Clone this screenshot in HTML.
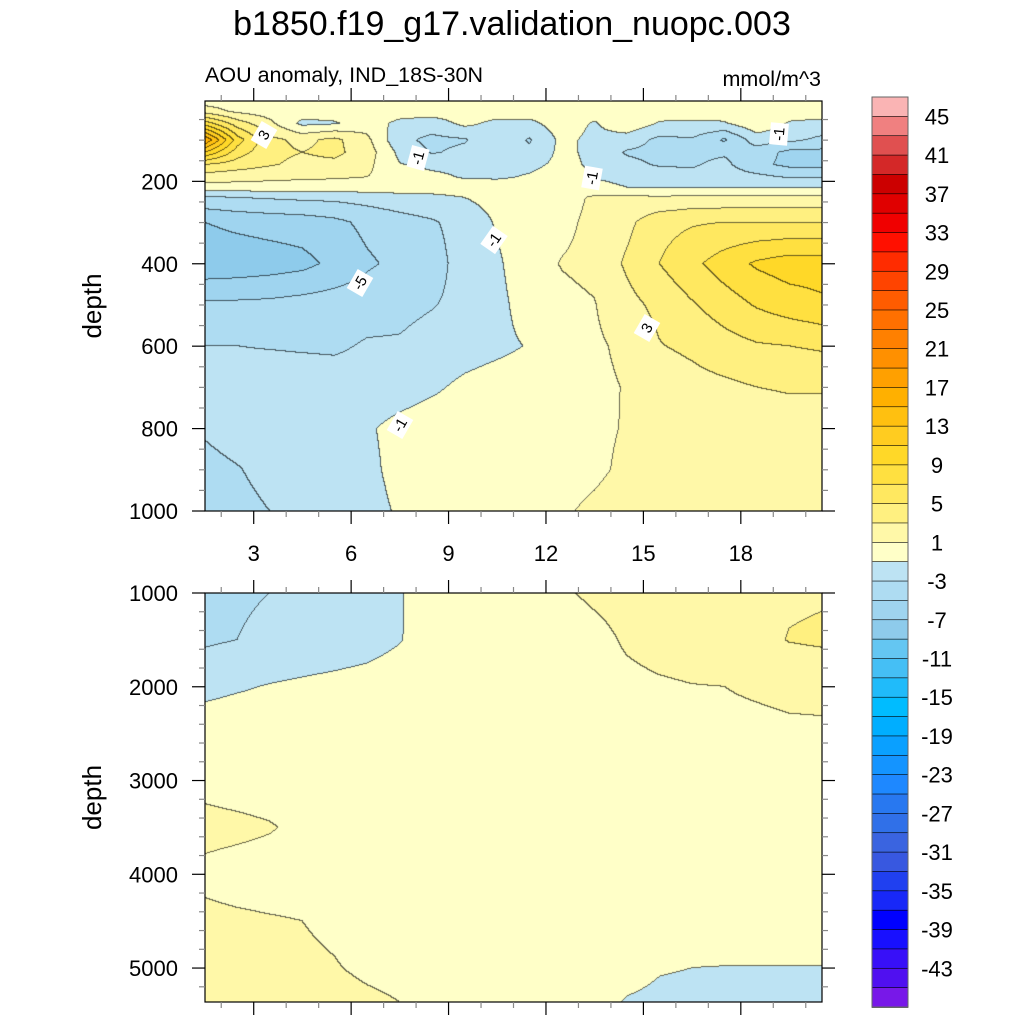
<!DOCTYPE html>
<html><head><meta charset="utf-8"><style>
html,body{margin:0;padding:0;background:#fff;}
#root{position:relative;width:1024px;height:1024px;overflow:hidden;font-family:"Liberation Sans",Arial,sans-serif;}
canvas{position:absolute;}
svg{position:absolute;left:0;top:0;}
</style></head><body>
<div id="root">
<canvas id="cTop" width="617" height="410" style="left:205px;top:101px"></canvas>
<canvas id="cBot" width="617" height="409" style="left:205px;top:593px"></canvas>
<svg id="ov" width="1024" height="1024"></svg>
</div>
<script>
// ---- data ----
const xCols = [1.5,2.5,3.5,4.5,5.5,6.5,7.5,8.5,9.5,10.5,11.5,12.5,13.5,14.5,15.5,16.5,17.5,18.5,19.5,20.5];
const topDepths = [5,30,60,100,130,160,190,215,240,300,400,500,600,700,800,900,1000];
const topVals = [
[0,0,0,0,0,0,0,0,0,0,0,0,0,0,0,0,0,0,0,0],
[2,0.5,0,0,0,0,0,0,0,0,0,0,0,0,0,0,0,0,0,0],
[8,4,1.5,-1.5,-1.2,0,-1.5,-2,-0.5,-1.5,-1.5,0,-1.2,0.5,-1.2,-1.3,-1.2,0.5,-1.2,-1.5],
[17,8,3.5,2.5,3.5,1.5,-2.5,-3.5,-3.2,-1.5,-3.2,-0.5,-1.5,-2,-3.5,-3.2,-5.3,-2,-2.5,-3.5],
[11,6,3.5,3,3.5,2,-1.5,-3.2,-2.5,-2,-2.5,-0.5,-1.5,-3.2,-3.5,-3.5,-3.3,-4,-5.5,-5.5],
[5,4,3.2,2.5,2.5,1.5,-0.9,-1.5,-1.5,-1.5,-1.5,-0.5,-1.3,-2.5,-3.2,-3.2,-2.5,-4.5,-5.5,-5.5],
[2,1.8,1.5,1.3,1.2,1,0.2,-0.5,-1.2,-1.3,-0.8,0,-1.1,-1.5,-2,-2.5,-2,-2.5,-3.2,-3.2],
[0.2,0.2,0.2,0.2,0.2,0.2,0.2,0,0,0,0,0,-0.5,-1,-1,-1.1,-1.1,-1.1,-1.1,-1.2],
[-3.3,-3,-2.8,-2.6,-2.5,-2.2,-1.8,-1.5,-1,-0.3,0,0.2,1.3,1.5,1.2,1.5,1.5,1.5,1.5,1.5],
[-7,-6.5,-6.2,-6,-5.5,-4.5,-3.8,-3.2,-2.3,-0.8,0.3,0.5,1.5,2.5,4.3,4.8,5,5,5,5],
[-8.5,-8.3,-8,-7.6,-6.5,-5.3,-4.5,-3.8,-2.2,-1.3,0.2,1.1,1.5,3.3,5,6.5,8,9.3,10,10],
[-4.6,-4.6,-4.5,-4.2,-4,-3.8,-3.5,-3.1,-2.5,-1.5,-0.2,0.5,0.9,2.4,3.5,4.8,6,7.2,8,8.6],
[-3,-3,-3.1,-3.2,-3.3,-2.8,-2.8,-2.3,-1.8,-1.4,-0.9,0.3,0.7,1.4,2.9,3.4,4.2,4.8,5,5.3],
[-2.2,-2.2,-2,-2,-2,-2,-1.8,-1.3,-0.6,-0.2,0,0.3,0.6,1.1,1.8,2.3,2.6,3,3.1,3.1],
[-2.8,-2.3,-2,-1.8,-1.6,-1.2,-0.5,0,0,0,0.1,0.3,0.7,1.1,1.8,2.1,2.3,2.4,2.5,2.5],
[-3.5,-3.1,-2.5,-2,-1.7,-1.4,-0.5,0,0,0,0.2,0.4,0.7,1.3,1.8,2.1,2.3,2.4,2.5,2.5],
[-4,-3.5,-3,-2.5,-2,-1.6,-0.8,0,0.2,0.3,0.5,0.8,1.3,1.8,2.1,2.2,2.2,2.2,2.2,2.2]
];
const botDepths = [1000,1500,2000,2500,3000,3500,4000,4500,5000,5362];
const botVals = [
[-3.6,-3.3,-3,-2.5,-2,-1.6,-1.1,-0.3,0,0,0.3,0.8,1.3,1.6,1.8,2,2.1,2.3,2.7,2.8],
[-3.3,-3,-2.5,-2.2,-2,-1.7,-1.1,-0.2,0,0,0,0,0.5,1.2,1.6,1.8,2,2.3,3.1,3.3],
[-1.5,-1.2,-0.9,-0.7,-0.5,-0.3,0,0,0,0,0,0.2,0.4,0.6,0.8,0.95,1.0,1.2,1.4,1.5],
[0,0.2,0.2,0.2,0.2,0.2,0.2,0.2,0.2,0.2,0.2,0.2,0.3,0.3,0.4,0.5,0.6,0.6,0.7,0.7],
[0.6,0.4,0.3,0.3,0.3,0.3,0.3,0.3,0.3,0.3,0.3,0.3,0.3,0.3,0.3,0.3,0.3,0.3,0.3,0.3],
[1.4,1.3,1.1,0.7,0.3,0.3,0.3,0.3,0.3,0.3,0.3,0.3,0.3,0.3,0.3,0.3,0.3,0.3,0.3,0.3],
[0.7,0.5,0.4,0.4,0.4,0.4,0.4,0.4,0.4,0.4,0.4,0.4,0.4,0.4,0.4,0.4,0.4,0.4,0.4,0.4],
[1.3,1.2,1.1,1.0,0.7,0.3,0.3,0.3,0.3,0.3,0.3,0.3,0.3,0.2,0.2,0.2,0.2,0.2,0.2,0.2],
[1.5,1.5,1.4,1.3,1.1,0.7,0.5,0.3,0.2,0.2,0.1,0.1,0,-0.5,-0.9,-1.0,-1.05,-1.05,-1.05,-1.05],
[1.6,1.6,1.6,1.6,1.6,1.3,1.0,0.6,0.3,0.2,0.1,0,-0.5,-1.1,-1.3,-1.35,-1.4,-1.4,-1.4,-1.4]
];
const cbLabels = [45,41,37,33,29,25,21,17,13,9,5,1,-3,-7,-11,-15,-19,-23,-27,-31,-35,-39,-43];
const palette = ["#fab4b4","#f08080","#e05050","#d42828","#cc0000","#e00000","#f00000","#ff1000","#ff2c00","#ff4400","#ff5c00","#ff7000","#ff8000","#ff9000","#ffa000","#ffb000","#ffc010","#ffcc20","#ffd828","#ffe040","#ffe860","#fff080","#fff8a8","#ffffc8",
"#bde3f3","#aedcf2","#9fd4ef","#8ecbeb","#64c6f2","#45bff5","#20bbfa","#00bcff","#00aeff","#0aa0ff","#1494ff","#1e88ff","#2878f0","#3070e8","#3a64e0","#3858e0","#2040f0","#1828f8","#0000ff","#1810ff","#3810f8","#5010f0","#7818e8"];
// ---- helpers ----
function levelIdx(v){let i=23-Math.floor((v+1)/2);return Math.max(0,Math.min(46,i));}
function hex(c){return [parseInt(c.substr(1,2),16),parseInt(c.substr(3,2),16),parseInt(c.substr(5,2),16)];}
const rgb=palette.map(hex);
function interp(xs,ds,vals,x,d){
  let j=0;while(j<xs.length-2&&x>xs[j+1])j++;
  let i=0;while(i<ds.length-2&&d>ds[i+1])i++;
  let tx=(x-xs[j])/(xs[j+1]-xs[j]);tx=Math.max(0,Math.min(1,tx));
  let ty=(d-ds[i])/(ds[i+1]-ds[i]);ty=Math.max(0,Math.min(1,ty));
  const a=vals[i][j],b=vals[i][j+1],c=vals[i+1][j],e=vals[i+1][j+1];
  return a*(1-tx)*(1-ty)+b*tx*(1-ty)+c*(1-tx)*ty+e*tx*ty;
}
function drawPanel(id,ds,vals,d0,d1){
  const cv=document.getElementById(id),ctx=cv.getContext('2d');
  const W=cv.width,H=cv.height,img=ctx.createImageData(W,H);
  const idx=new Int16Array(W*H);
  for(let py=0;py<H;py++){const d=d0+(py+0.5)/H*(d1-d0);
    for(let px=0;px<W;px++){const x=1.5+(px+0.5)/W*19;
      idx[py*W+px]=levelIdx(interp(xCols,ds,vals,x,d));}}
  for(let py=0;py<H;py++)for(let px=0;px<W;px++){
    const k=py*W+px;let c=rgb[idx[k]];
    let edge=(px<W-1&&idx[k+1]!==idx[k])||(py<H-1&&idx[k+W]!==idx[k]);
    let r=c[0],g=c[1],b=c[2];
    if(edge){r=r*0.4;g=g*0.4;b=b*0.4;}
    img.data[k*4]=r;img.data[k*4+1]=g;img.data[k*4+2]=b;img.data[k*4+3]=255;}
  ctx.putImageData(img,0,0);
}
drawPanel('cTop',topDepths,topVals,5,1000);
drawPanel('cBot',botDepths,botVals,1000,5362);
// ---- overlay ----
const NS="http://www.w3.org/2000/svg",ov=document.getElementById('ov');
function el(t,a,txt){const e=document.createElementNS(NS,t);for(const k in a)e.setAttribute(k,a[k]);if(txt!==undefined)e.textContent=txt;ov.appendChild(e);return e;}
const xPix=x=>205+(x-1.5)/19*617;
const topY=d=>101+(d-5)/995*410;
const botY=d=>593+(d-1000)/4362*409;
let t;
t=el('text',{x:512,y:35,'font-size':34,'text-anchor':'middle'},'b1850.f19_g17.validation_nuopc.003');

t=el('text',{x:205,y:82,'font-size':21.5},'AOU anomaly, IND_18S-30N');

t=el('text',{x:821,y:86,'font-size':21.5,'text-anchor':'end'},'mmol/m^3');

function panelAxes(y0,y1,yf,majors,minorStep,dmin,dmax,xlabels,name){
  const g=el('g',{});
  
  el('rect',{x:205,y:y0,width:617,height:y1-y0,fill:'none',stroke:'#000','stroke-width':1.2});
  for(let x=2;x<=20;x++){const px=xPix(x),maj=x%3===0,L=maj?13:6;
    el('line',{x1:px,x2:px,y1:y1,y2:y1+L,stroke:maj?'#000':'#888','stroke-width':1.2});
    el('line',{x1:px,x2:px,y1:y0,y2:y0-L,stroke:maj?'#000':'#888','stroke-width':1.2});
    if(maj&&xlabels){const tl=el('text',{x:px,y:y1+50,'font-size':22,'text-anchor':'middle'},String(x));
      }}
  for(let d=Math.ceil(dmin/minorStep)*minorStep;d<=dmax;d+=minorStep){const py=yf(d),maj=majors.includes(d),L=maj?13:6;
    el('line',{x1:205,x2:205-L,y1:py,y2:py,stroke:maj?'#000':'#888','stroke-width':1.2});
    el('line',{x1:822,x2:822+L,y1:py,y2:py,stroke:maj?'#000':'#888','stroke-width':1.2});
    if(maj){const tl=el('text',{x:178,y:py+8,'font-size':22,'text-anchor':'end'},String(d));
      }}
  const yt=el('text',{x:0,y:0,'font-size':26,'text-anchor':'middle',transform:`translate(101,${(y0+y1)/2}) rotate(-90)`},'depth');
  
}
panelAxes(101,511,topY,[200,400,600,800,1000],50,50,1000,true,'top-panel');
panelAxes(593,1002,botY,[1000,2000,3000,4000,5000],200,1000,5362,false,'bottom-panel');
// contour labels
const cl=[[264,135,'3',-60],[418,158,'-1',-75],[592,178,'-1',-80],[494,240,'-1',-55],[360,283,'-5',-60],[647,328,'3',-60],[400,425,'-1',-60],[779,134,'-1',-85]];
cl.forEach(c=>{const g=el('g',{transform:`translate(${c[0]},${c[1]}) rotate(${c[3]})`});
  
  const r=document.createElementNS(NS,'rect');r.setAttribute('x',-11);r.setAttribute('y',-9);r.setAttribute('width',22);r.setAttribute('height',18);r.setAttribute('fill','#fff');g.appendChild(r);
  const tx=document.createElementNS(NS,'text');tx.setAttribute('x',0);tx.setAttribute('y',5);tx.setAttribute('font-size',15);tx.setAttribute('text-anchor','middle');tx.textContent=c[2];g.appendChild(tx);});
// colorbar
const cbg=el('g',{});

const cbTop=97,cbH=910/47;
for(let i=0;i<47;i++){const r=el('rect',{x:872,y:cbTop+i*cbH,width:36,height:cbH+0.5,fill:palette[i],stroke:'#000','stroke-width':0.6});
  }
el('rect',{x:872,y:cbTop,width:36,height:910,fill:'none',stroke:'#666','stroke-width':1});
cbLabels.forEach(v=>{const k=(45-v)/2;const tl=el('text',{x:937,y:cbTop+(k+1)*cbH+8,'font-size':22,'text-anchor':'middle'},String(v));
  });
</script>
</body></html>
